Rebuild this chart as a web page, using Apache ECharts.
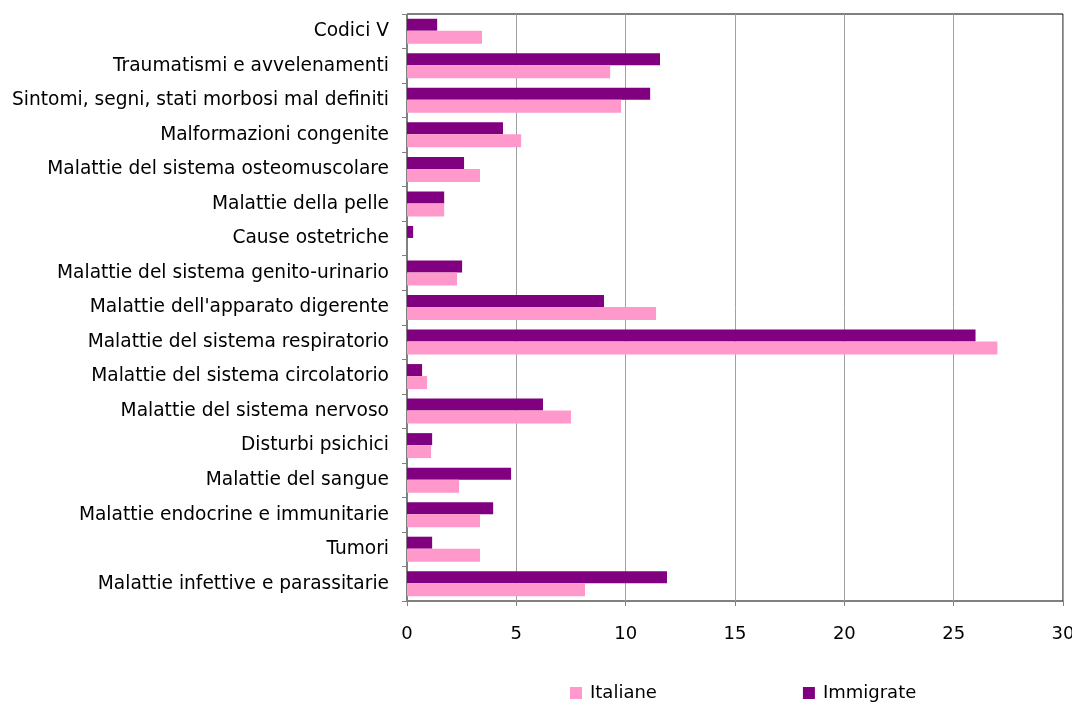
<!DOCTYPE html>
<html>
<head>
<meta charset="utf-8">
<script src="https://cdn.jsdelivr.net/npm/echarts@6/dist/echarts.min.js"></script>
<style>html,body{margin:0;padding:0;background:#fff}#c{width:1072px;height:704px}</style>
</head>
<body>
<div id="c"></div>
<script>
const categories = [
  "Malattie infettive e parassitarie",
  "Tumori",
  "Malattie endocrine e immunitarie",
  "Malattie del sangue",
  "Disturbi psichici",
  "Malattie del sistema nervoso",
  "Malattie del sistema circolatorio",
  "Malattie del sistema respiratorio",
  "Malattie dell'apparato digerente",
  "Malattie del sistema genito-urinario",
  "Cause ostetriche",
  "Malattie della pelle",
  "Malattie del sistema osteomuscolare",
  "Malformazioni congenite",
  "Sintomi, segni, stati morbosi mal definiti",
  "Traumatismi e avvelenamenti",
  "Codici V"
];
const italiane = [8.14, 3.34, 3.34, 2.38, 1.1, 7.5, 0.92, 27.0, 11.39, 2.29, 0, 1.7, 3.34, 5.22, 9.79, 9.29, 3.43];
const immigrate = [11.89, 1.15, 3.94, 4.76, 1.15, 6.22, 0.69, 26.0, 9.01, 2.52, 0.28, 1.7, 2.61, 4.39, 11.12, 11.57, 1.38];
const xTicks = { min: 0, max: 30, interval: 5 };

const font = "DejaVu Sans";
const chart = echarts.init(document.getElementById('c'), null, { renderer: 'canvas' });
chart.setOption({
  animation: false,
  backgroundColor: '#fff',
  textStyle: { fontFamily: font },
  grid: { left: 407, right: 9, top: 14, bottom: 103, show: true, borderColor: '#000', borderWidth: 1, containLabel: false, outerBoundsMode: 'none' },
  legend: {
    top: 679, left: 565,
    itemWidth: 12, itemHeight: 12, itemGap: 146,
    icon: 'rect',
    textStyle: { fontFamily: font, fontSize: 18, color: '#000', padding: [0, 0, 0, 3] },
    data: ['Italiane', 'Immigrate']
  },
  xAxis: {
    type: 'value', min: xTicks.min, max: xTicks.max, interval: xTicks.interval,
    axisLine: { show: true, lineStyle: { color: '#808080', width: 1 } },
    axisTick: { show: true, length: 5, lineStyle: { color: '#808080' } },
    splitLine: { show: true, lineStyle: { color: '#a0a0a0', width: 1 } },
    axisLabel: { fontFamily: font, fontSize: 18, color: '#000', margin: 24 }
  },
  yAxis: {
    type: 'category', data: categories,
    axisLine: { show: true, lineStyle: { color: '#808080', width: 1 } },
    axisTick: { show: true, length: 5, lineStyle: { color: '#808080' } },
    axisLabel: { fontFamily: font, fontSize: 18.6, color: '#000', margin: 18 }
  },
  series: [
    { name: 'Immigrate', type: 'bar', data: immigrate, barWidth: 12, barGap: '0%', itemStyle: { color: '#800080' } },
    { name: 'Italiane', type: 'bar', data: italiane, barWidth: 13, barGap: '0%', itemStyle: { color: '#FF99CC' } }
  ]
});
</script>
</body>
</html>
